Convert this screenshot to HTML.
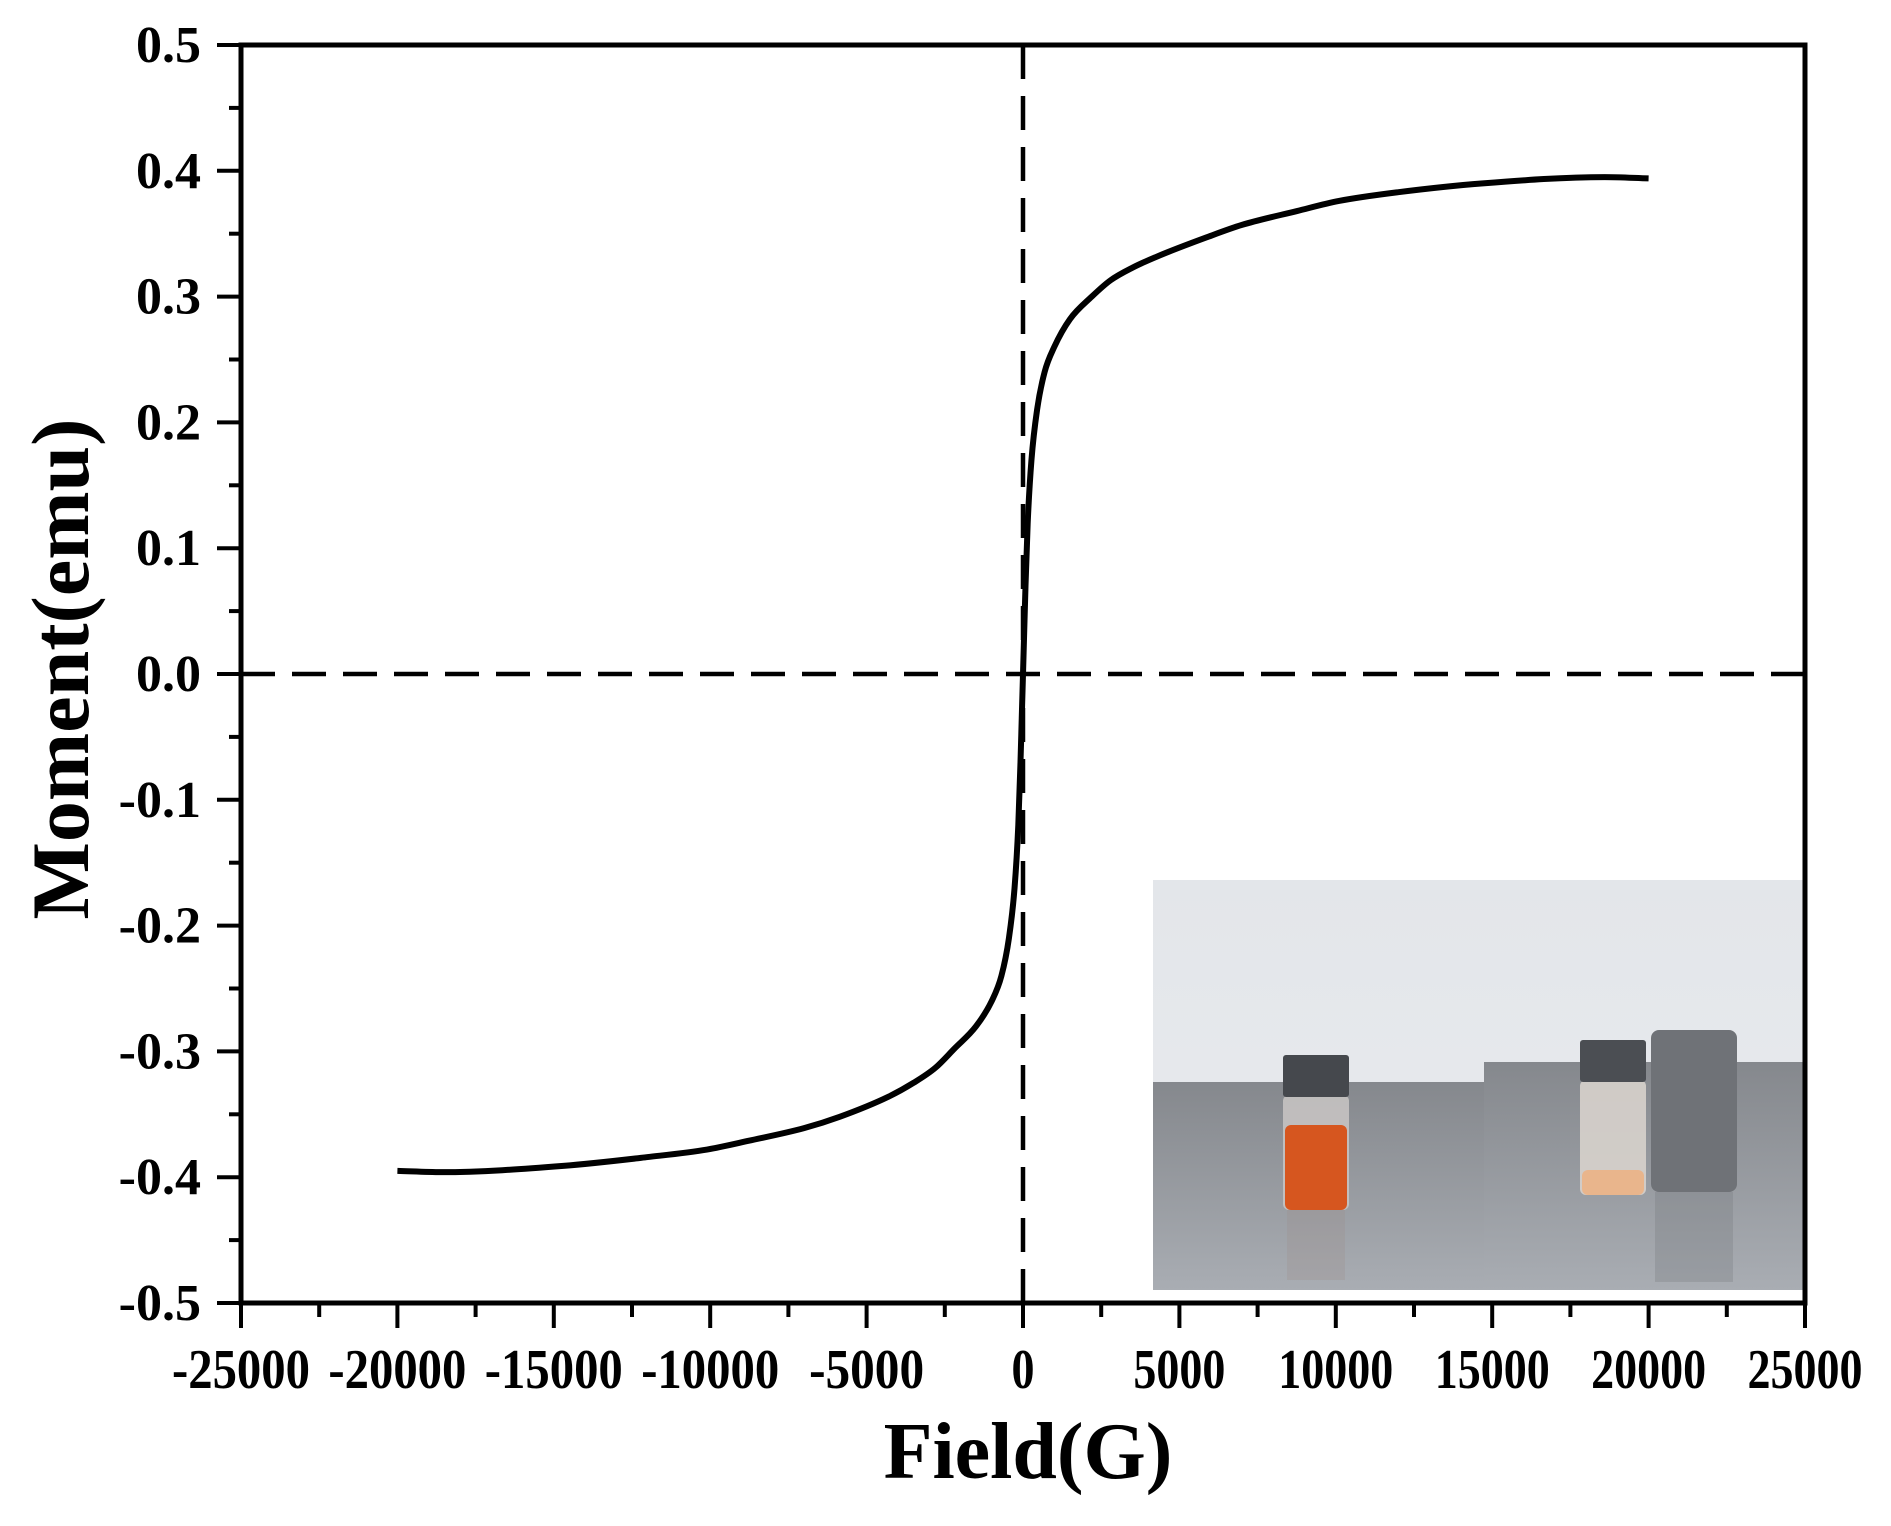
<!DOCTYPE html>
<html><head><meta charset="utf-8"><style>
html,body{margin:0;padding:0;background:#fff;}
svg{display:block;}
text{font-family:"Liberation Serif",serif;font-weight:bold;fill:#000;}
</style></head><body>
<svg id="chart" width="1891" height="1526" viewBox="0 0 1891 1526" xmlns="http://www.w3.org/2000/svg">
<defs>
<linearGradient id="wall" x1="0" y1="0" x2="0" y2="1"><stop offset="0" stop-color="#e3e6ea"/><stop offset="1" stop-color="#e9ebee"/></linearGradient>
<linearGradient id="table" x1="0" y1="0" x2="0" y2="1"><stop offset="0" stop-color="#85888d"/><stop offset="1" stop-color="#a9adb3"/></linearGradient>
</defs>
<g id="inset">
<rect x="1153" y="880" width="650" height="410" fill="url(#wall)"/>
<rect x="1153" y="1082" width="332" height="208" fill="url(#table)"/>
<rect x="1484" y="1062" width="319" height="228" fill="url(#table)"/>
<rect x="1283" y="1095" width="66" height="115" rx="6" fill="#c9c6c4" opacity="0.85"/>
<rect x="1285" y="1125" width="62" height="85" rx="6" fill="#d6561f"/>
<rect x="1283" y="1055" width="66" height="42" rx="3" fill="#45484d"/>
<rect x="1287" y="1210" width="58" height="70" fill="#9a8c88" opacity="0.25"/>
<rect x="1580" y="1080" width="66" height="115" rx="6" fill="#d7d2cc" opacity="0.9"/>
<rect x="1582" y="1170" width="62" height="25" rx="6" fill="#e9b58c"/>
<rect x="1580" y="1040" width="66" height="42" rx="3" fill="#4b4e53"/>
<rect x="1651" y="1030" width="86" height="162" rx="8" fill="#6f7277"/>
<rect x="1655" y="1192" width="78" height="90" fill="#6a6e73" opacity="0.25"/>
</g>
<g id="axes"></g>
<text x="1028" y="1478" font-size="80" text-anchor="middle">Field(G)</text>
<text transform="translate(88,669) rotate(-90)" font-size="82" text-anchor="middle">Moment(emu)</text>
</svg>
<script>
const xTicks=[-25000,-20000,-15000,-10000,-5000,0,5000,10000,15000,20000,25000];
const xTickLabels=["-25000","-20000","-15000","-10000","-5000","0","5000","10000","15000","20000","25000"];
const yTicks=[-0.5,-0.4,-0.3,-0.2,-0.1,0,0.1,0.2,0.3,0.4,0.5];
const yTickLabels=["-0.5","-0.4","-0.3","-0.2","-0.1","0.0","0.1","0.2","0.3","0.4","0.5"];
const fieldG=[-20000,-18600,-14700,-12000,-10100,-8760,-7000,-5860,-4300,-3500,-2800,-2200,-1500,-1000,-690,-450,-270,-150,-80,-40,0,40,80,150,270,450,690,1000,1500,2200,2800,3500,4300,5860,7000,8760,10100,12000,14700,18600,20000];
const momentEmu=[-0.395,-0.396,-0.391,-0.384,-0.378,-0.371,-0.361,-0.352,-0.336,-0.325,-0.313,-0.298,-0.28,-0.26,-0.24,-0.21,-0.17,-0.12,-0.07,-0.035,0,0.035,0.07,0.12,0.17,0.21,0.24,0.26,0.282,0.30,0.313,0.323,0.332,0.347,0.357,0.368,0.376,0.383,0.390,0.395,0.394];

const L=241,R=1805,T=45,B=1303;
const xS=v=>L+(v+25000)/50000*(R-L);
const yS=v=>B-(v+0.5)/1.0*(B-T);
const NS='http://www.w3.org/2000/svg';
const g=document.getElementById('axes');
function mk(tag,attrs){const e=document.createElementNS(NS,tag);for(const k in attrs)e.setAttribute(k,attrs[k]);g.appendChild(e);return e;}

let e=mk('line',{x1:xS(0),y1:T,x2:xS(0),y2:B,stroke:'#000','stroke-width':4.5,'stroke-dasharray':'34 17'});


e=mk('line',{x1:L,y1:yS(0),x2:R,y2:yS(0),stroke:'#000','stroke-width':4.5,'stroke-dasharray':'34 17'});



const n=fieldG.length;
const dx=[],sl=[];
for(let i=0;i<n-1;i++){dx.push(fieldG[i+1]-fieldG[i]);sl.push((momentEmu[i+1]-momentEmu[i])/dx[i]);}
const m=[sl[0]];
for(let i=1;i<n-1;i++){m.push(sl[i-1]*sl[i]<=0?0:(sl[i-1]+sl[i])/2);}
m.push(sl[n-2]);
for(let i=0;i<n-1;i++){
 if(sl[i]===0){m[i]=0;m[i+1]=0;continue;}
 const a=m[i]/sl[i],b=m[i+1]/sl[i],s=a*a+b*b;
 if(s>9){const t=3/Math.sqrt(s);m[i]=t*a*sl[i];m[i+1]=t*b*sl[i];}
}
let d='M'+xS(fieldG[0])+','+yS(momentEmu[0]);
for(let i=0;i<n-1;i++){
 const h=dx[i];
 const c1x=fieldG[i]+h/3,c1y=momentEmu[i]+m[i]*h/3;
 const c2x=fieldG[i+1]-h/3,c2y=momentEmu[i+1]-m[i+1]*h/3;
 d+=` C${xS(c1x)},${yS(c1y)} ${xS(c2x)},${yS(c2y)} ${xS(fieldG[i+1])},${yS(momentEmu[i+1])}`;
}
e=mk('path',{d:d,fill:'none',stroke:'#000','stroke-width':6,'stroke-linejoin':'round'});



e=mk('rect',{x:L,y:T,width:R-L,height:B-T,fill:'none',stroke:'#000','stroke-width':5});



xTicks.forEach((v,i)=>{
 const t=mk('line',{x1:xS(v),y1:B,x2:xS(v),y2:B+25,stroke:'#000','stroke-width':4});
 
 
 if(i<xTicks.length-1){
  const mm=mk('line',{x1:xS(v+2500),y1:B,x2:xS(v+2500),y2:B+14,stroke:'#000','stroke-width':4});
  
  
 }
 const lbl=xTickLabels[i];
 const tx=mk('text',{x:xS(v),y:1388,'font-size':56,'text-anchor':'middle',textLength:lbl.length*23,lengthAdjust:'spacingAndGlyphs'});
 tx.textContent=lbl;
 
 
});
yTicks.forEach((v,i)=>{
 const t=mk('line',{x1:L-24,y1:yS(v),x2:L,y2:yS(v),stroke:'#000','stroke-width':4});
 
 
 if(i<yTicks.length-1){
  const mm=mk('line',{x1:L-12,y1:yS(v+0.05),x2:L,y2:yS(v+0.05),stroke:'#000','stroke-width':4});
  
  
 }
 const tx=mk('text',{x:L-40,y:yS(v)+17,'font-size':52,'text-anchor':'end'});
 tx.textContent=yTickLabels[i];
 
 
});
</script>
</body></html>
